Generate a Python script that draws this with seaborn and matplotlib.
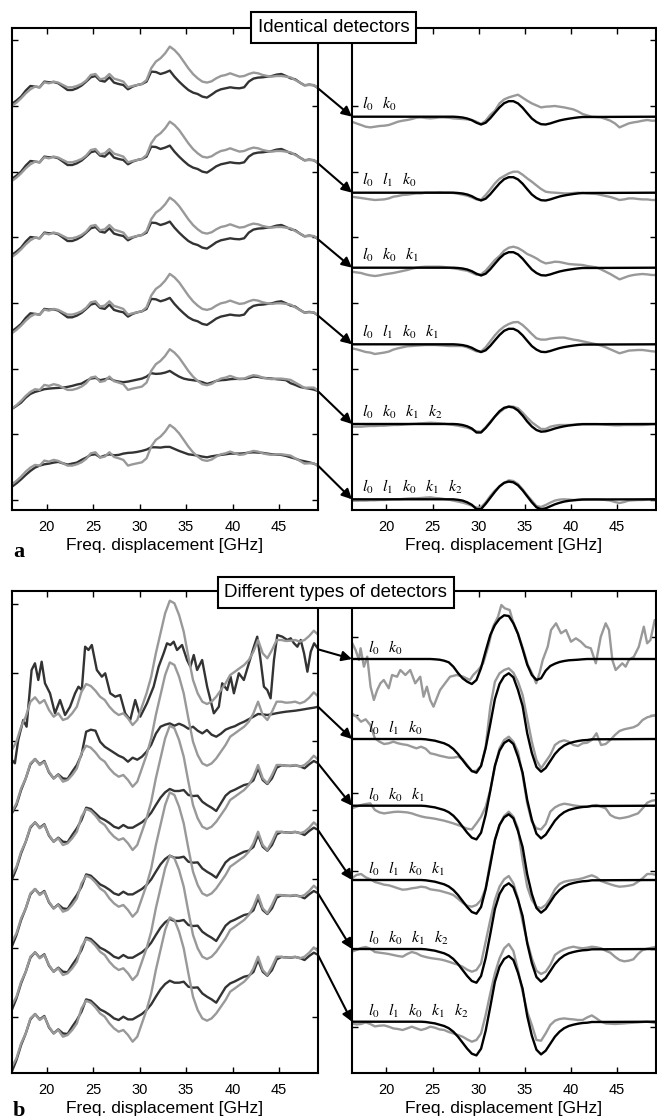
import numpy as np
import matplotlib
matplotlib.use("Agg")
import matplotlib.pyplot as plt
import seaborn as sns
from matplotlib.patches import ConnectionPatch

# ---------------- data (y in pixel-like units, relative to each row) ----------------
freq = [16.25, 16.75, 17.25, 17.75, 18.25, 18.75, 19.25, 19.75, 20.25, 20.75,
        21.25, 21.75, 22.25, 22.75, 23.25, 23.75, 24.25, 24.75, 25.25, 25.75,
        26.25, 26.75, 27.25, 27.75, 28.25, 28.75, 29.25, 29.75, 30.25, 30.75,
        31.25, 31.75, 32.25, 32.75, 33.25, 33.75, 34.25, 34.75, 35.25, 35.75,
        36.25, 36.75, 37.25, 37.75, 38.25, 38.75, 39.25, 39.75, 40.25, 40.75,
        41.25, 41.75, 42.25, 42.75, 43.25, 43.75, 44.25, 44.75, 45.25, 45.75,
        46.25, 46.75, 47.25, 47.75, 48.25, 48.75, 49.25]

# panel a, left: raw spectrum (same in every row) and corrected spectra
top_raw = [-22.7, -19.3, -15, -10, -6, -3.3, -4, 1, 0, 1.7, 0.7, -1.7, -4, -4, -2.7, -0.7, 2.7, 8.3, 9.3, 4,
           5, 9.3, 4.7, 3.3, 1.7, -4, -2.7, -1.7, -0.7, 3.3, 15, 21.7, 25, 30, 36.7, 33.3, 28.3, 21.7, 15, 9.3,
           5, 1.7, 0.7, 2, 5, 7.3, 8.3, 10, 8.3, 6.7, 7.3, 9.3, 10.7, 10, 8.3, 7.3, 6.7, 7.3, 7.3, 6.7,
           6, 3.3, 0.7, -2, -1.7, -1.7, -5]
top_corr_a = [-20.7, -17.3, -13.3, -7.3, -2.7, -3.3, -4, 1.7, 1, 1.3, 0, -3.3, -6.7, -6.7, -5, -2.3, 1.7, 6, 7.3, 2.7,
              1.7, 6, 0.7, -0.7, -1.7, -6, -3.3, -1.7, -0.7, 1.7, 11.7, 11.3, 9.3, 10.7, 12.7, 6.7, 1.7, -2.7, -6.7, -9.3,
              -10.7, -13.3, -14.3, -11.3, -8, -6, -5, -4, -4.7, -5, -4, 1.7, 4.7, 5.7, 6, 6.7, 7.3, 8.7, 9.3, 7.3,
              5, 4, 0.7, -2, -1.3, -2, -5]
top_corr_5 = [-23, -20, -16.7, -11.7, -8, -6, -4.7, -3.3, -2.7, -2.3, -2, -1.7, -1, 0, 1.3, 2.3, 5, 7.3, 8, 5.7,
              6.7, 7.7, 5.3, 4.3, 3.7, 4.3, 5.3, 6.3, 7.3, 9.3, 12.7, 12, 12.3, 13.3, 15, 12, 9.3, 7.3, 6.3, 5.7,
              5, 3.7, 2, 3.3, 5, 5.7, 6, 6.7, 7, 7, 7, 8, 9.3, 9, 8, 7.7, 7.3, 6.7, 6.3, 5.7,
              2.7, 1, -1, -2, -2.7, -3.7, -5.3]
top_corr_6 = [-25.2, -21.7, -17.7, -13.3, -9.3, -6, -4, -2.7, -2, -1, -0.3, -1.7, -3, -2, -1, 1.7, 4, 6.7, 7.3, 4.3,
              6, 7.3, 6.3, 6.7, 8, 8.7, 9, 9.7, 10.7, 12, 14.3, 14.3, 14, 14.7, 14.7, 12.7, 10.7, 9, 7.3, 6.7,
              6, 5, 4.3, 5.3, 6, 6.7, 7.3, 8, 8, 8, 8.3, 9, 9.3, 9, 8.7, 8, 7.3, 7, 6.7, 5.7,
              4.3, 3, 1.3, 0.3, -0.7, -2, -4]
top_left_base = [426.7, 351.7, 275.7, 199.4, 124.1, 48.4]

# panel a, right: fitted model and extracted signal
model_x_a = [16.25, 27.25, 27.75, 28.25, 28.75, 29.25, 29.75, 30.25, 30.75, 31.25, 31.75, 32.25, 32.75, 33.25,
             33.75, 34.25, 34.75, 35.25, 35.75, 36.25, 36.75, 37.25, 37.75, 38.25, 38.75, 39.25, 39.75, 40.25,
             40.75, 41.25, 49.25]
top_model_a = [0, 0, -0.3, -0.8, -1.8, -3.5, -6, -7.8, -6, -1.5, 4, 9.3, 13.5, 15.5, 15.5, 13.3, 9, 3.5, -1.8,
               -5.3, -7.5, -7.8, -6.7, -5.2, -3.8, -2.8, -2, -1.3, -0.7, -0.3, 0]
top_model_5 = [0, 0, -0.3, -1, -2.3, -4.5, -8.5, -8.5, -4, 1.5, 7.5, 12.8, 16.2, 17.3, 16.5, 13.5, 8.5, 2.5, -2.5,
               -6, -7.7, -7.3, -6, -4.5, -3.3, -2.3, -1.5, -1, -0.5, -0.2, 0]
top_model_6 = [0, 0, -0.5, -1.3, -3, -5.5, -9.8, -9.8, -4.5, 1.5, 7.5, 13, 16.5, 17.7, 17, 14, 9, 3, -3,
               -8, -10, -9, -7, -5, -3.5, -2.3, -1.5, -1, -0.5, -0.2, 0]
top_resid_1 = [-5, -6.7, -8.3, -10, -10.7, -10, -9.3, -9, -8.3, -6.7, -5, -4, -3.3, -2.3, -1, -0.7, -1.3, -1.7, -1.3, -0.7,
               -0.7, -1, -1.7, -2, -2.3, -2.7, -3.3, -5, -7.3, -4, 1.7, 6, 13.3, 17.3, 19.3, 20.7, 22, 19, 16, 13.3,
               11.3, 9.3, 10, 10.3, 10.7, 10, 9.3, 8.3, 7.3, 5.3, 2.7, 1.3, 0, -0.3, -0.7, -2.3, -4, -6.7, -10.7, -8.7,
               -6.7, -5.7, -5, -4, -3.3, -4, -4]
top_resid_2 = [-4, -4.7, -5.3, -6, -6.7, -7.3, -7, -6.7, -5.7, -4, -3.3, -2.3, -2, -1.3, -0.7, -0.7, 0, 0, 0, 0.3,
               0, 0, -0.3, -1, -2, -3, -4.7, -6.7, -7, -2.3, 3.3, 9.3, 14, 16.7, 19.3, 21, 21, 18, 14.3, 11,
               7.3, 3.7, 1, 0.3, 0, -0.3, -0.7, -0.7, -0.3, 0, -0.3, -0.7, -1, -1.3, -2.3, -3.3, -4.3, -5.7, -7.3, -6.7,
               -5.7, -5.7, -6.3, -6.7, -6.7, -7.3, -7.3]
top_resid_3 = [-4, -4.7, -5.3, -6.7, -7.7, -8.3, -7.7, -6.7, -6, -5.3, -4.3, -3.3, -2.3, -1, 0, 0.7, 1, 1, 1, 1,
               0.7, 0, -0.7, -1.3, -2.3, -3, -5, -7, -6.7, -3, 2.3, 7.7, 11.7, 17, 20, 21, 19.7, 17, 13.7, 11.7,
               9.3, 6.3, 4.3, 5, 6, 5.7, 4.7, 3.7, 3.3, 3, 2.7, 1.7, 1, 0.3, -1.7, -4, -6.3, -9, -11.7, -10,
               -8.3, -7.3, -6.7, -6.3, -6.7, -7.3, -7.3]
top_resid_4 = [-4, -5, -6.3, -7.7, -8.3, -9.7, -9, -8.3, -7.3, -5.3, -4, -3, -2, -1.7, -1.3, -1, -0.7, -0.7, -0.7, -1,
               -1.3, -1.7, -1.7, -1.7, -1.7, -3, -5, -7, -7.3, -3, 3, 9, 14, 17.7, 20.3, 22, 22.3, 19.3, 15, 10.3,
               6, 4.7, 4.7, 5.7, 6.3, 6.7, 6.7, 5.7, 4.7, 4, 3, 2, 1, 0, -1.3, -3, -5, -7, -9, -7.7,
               -6.3, -6, -5.7, -5.7, -6.3, -7, -7.3]
top_resid_5 = [-2.7, -2.7, -2.7, -2.3, -2, -2, -1.7, -1.7, -1.3, -1, -1, -0.7, -0.3, 0, 0.3, 0.7, 1, 1.3, 1, 0.7,
               0.3, -0.3, -1, -1.7, -2.7, -3.7, -5.3, -7.3, -7.7, -3.3, 2.3, 7.3, 11.7, 15.3, 17.7, 17.3, 15.7, 11.3, 6.3, 1.7,
               -1.7, -5, -5, -2.7, -1.7, -1, -1, -1, -0.7, -0.3, 0, 0, 0, 0, -0.3, -0.7, -1, -1.3, -1.3, -1,
               -1, -1, -1, -1, -0.7, -0.3, 0]
top_resid_6 = [-1.3, -1.3, -1.3, -1.3, -1, -1, -0.7, -0.7, -0.3, 0, 0, 0.3, 0.7, 1, 1, 1.3, 1.7, 2, 1.3, 1,
               0.3, -0.3, -1.3, -2.3, -3.3, -4.7, -6.3, -8.3, -8, -3, 3.3, 8.7, 12.7, 16.3, 19, 18.3, 15.3, 10, 4, -1.3,
               -6.7, -7.7, -5.7, -3.3, -1.3, -0.3, 0, -0.3, -0.7, -0.7, -0.3, 0, 0, 0, -0.3, -0.7, -1.3, -2.7, -3.7, -2.7,
               -1.3, -1, -0.7, -0.7, -0.3, 0, 0]
top_right_base = [393.3, 317.3, 242.3, 165.7, 86.0, 10.7]

# panel b, left
bot_raw = [-90, -81.7, -66.7, -56.7, -41.7, -37.3, -43.3, -40, -50, -56.7, -53.3, -60, -58.3, -53.3, -46.7, -31.7,
           -24, -26, -30.7, -36.7, -40, -46.7, -51.7, -55, -53.3, -58.3, -65, -60, -46.7, -33.3, -16.7, 6.7, 26.7,
           46.7, 59.3, 56.7, 45, 28.3, 3.3, -20, -33.3, -41.7, -44, -41.7, -36.7, -30, -23.3, -15, -11.7, -8.3,
           -5, 0, 8.3, 20, 6.7, 1.7, 10, 20, 20, 19, 19.3, 20, 18.3, 20, 24, 29.3, 25]
bot_corr_1_x = [16.26, 16.58, 16.94, 17.48, 17.84, 18.38, 18.74, 19.10, 19.46, 19.82, 20.36, 20.90, 21.44, 21.98,
                22.52, 23.06, 23.42, 23.78, 24.14, 24.50, 24.86, 25.40, 25.94, 26.30, 26.84, 27.38, 27.91, 28.45,
                28.99, 29.53, 30.07, 30.79, 31.51, 32.05, 32.59, 32.95, 33.31, 33.67, 34.03, 34.57, 35.11, 35.47,
                35.83, 36.19, 36.73, 37.27, 37.99, 38.53, 38.89, 39.43, 39.79, 40.15, 40.68, 41.22, 41.76, 42.30,
                42.66, 43.02, 43.38, 43.74, 44.10, 44.46, 44.82, 45.36, 45.90, 46.26, 46.62, 46.98, 47.34, 47.70,
                48.06, 48.42, 48.78, 49.25]
bot_corr_1 = [-100, -103.3, -80, -60, -66.7, -10, -3.3, -20, -1.7, -23.3, -33.3, -53.3, -40, -55, -46.7, -33.3,
              -26.7, -30, 13.3, 10, 15, -10, -16.7, -13.3, -33.3, -36.7, -35, -53.3, -60, -40, -56.7, -43.3, -26.7,
              -6.7, 6.7, 16.7, 15, 18.3, 10, 15, 0, -6.7, 5, -10, 0, -26.7, -53.3, -46.7, -23.3, -30, -16.7, -33.3,
              -13.3, -20, -3.3, 13.3, 23.3, 0, -26.7, -30, -38.3, 0, 25, 23.3, 20, 21.7, 16.7, 13.3, 20, 6.7,
              -11.7, 8.3, 16.7, 10.7]
bot_corr_2 = [-91.7, -83.3, -68.3, -56.7, -42.7, -37.3, -42.7, -39.3, -50.7, -56.7, -52.7, -56.7, -57.3, -50, -43.3, -33,
              -10, -8, -9, -20, -25, -28, -31, -34, -36, -40, -36, -38, -35, -30, -23, -12, -5, -3, -1.7,
              -4, -2, -4, -7, -5, -9, -11.7, -8.3, -13, -15, -12, -8, -6, -4.5, -2, 0, 2.5, 5, 7.7,
              7.3, 6.7, 7.5, 8.5, 9.3, 10, 10.5, 11, 11.7, 12.5, 13.3, 14, 15]
bot_corr_c = [-95, -83.3, -68.3, -56.7, -42.7, -37.3, -42.7, -39.3, -50.7, -56.7, -52.7, -56.7, -57.3, -50, -43.3, -35,
              -22.7, -24, -28.3, -32.7, -35, -38, -41.7, -43.3, -40, -42.7, -42.7, -40, -37.3, -33.3, -27.7, -20,
              -12.7, -7.3, -4, -6, -6, -5, -10, -11, -10.7, -16.7, -20, -22.7, -26, -18.3, -10.7, -6.7, -4.7, -2.3,
              0, 1, 4.7, 16.7, 5, 1, 6.7, 17.3, 19.7, 19.3, 19, 19.7, 18.7, 16.7, 20.7, 24, 21.7]
bot_left_base = [413.0, 351.3, 288.0, 221.3, 158.0, 96.3]

# panel b, right
model_x_b1 = [16.25, 24.75, 25.25, 25.75, 26.25, 26.75, 27.25, 27.75, 28.25, 28.75, 29.25, 29.75, 30.25, 30.75,
              31.25, 31.75, 32.25, 32.75, 33.25, 33.75, 34.25, 34.75, 35.25, 35.75, 36.25, 36.75, 37.25, 37.75,
              38.25, 38.75, 39.25, 39.75, 40.25, 40.75, 41.25, 41.75, 49.25]
bot_model_1 = [0, 0, -0.3, -0.7, -1.7, -3.3, -7.7, -14, -19.3, -22.7, -25, -21, -9, 8, 24, 34, 40.3, 43.7, 43,
               35.7, 25, 10, -5.7, -16, -21, -19.3, -11.7, -7, -4.7, -3, -2, -1.3, -1, -0.7, -0.3, 0, 0]
model_x_b = [16.25, 23.75, 24.25, 24.75, 25.25, 25.75, 26.25, 26.75, 27.25, 27.75, 28.25, 28.75, 29.25, 29.75,
             30.25, 30.75, 31.25, 31.75, 32.25, 32.75, 33.25, 33.75, 34.25, 34.75, 35.25, 35.75, 36.25, 36.75,
             37.25, 37.75, 38.25, 38.75, 39.25, 39.75, 40.25, 40.75, 41.25, 41.75, 42.25, 49.25]
bot_model_b = [0, 0, -0.3, -1, -1.7, -3, -4.3, -6.5, -10, -15, -21, -27, -32, -33.7, -27, -9, 15, 40, 55, 62.7,
               65.7, 61.7, 49, 33, 5.7, -14, -28, -32.7, -29, -22, -15, -10, -6.5, -4.3, -3, -2, -1.3, -1, -0.3, 0]
bot_resid_1_x = [16.30, 16.66, 17.02, 17.20, 17.56, 17.92, 18.28, 18.64, 19.00, 19.35, 19.71, 20.25, 20.61, 21.15,
                 21.51, 22.05, 22.58, 23.12, 23.66, 24.02, 24.38, 24.74, 25.10, 25.45, 25.81, 26.35, 26.89, 27.61,
                 28.32, 29.04, 29.40, 29.94, 30.48, 31.02, 31.55, 32.09, 32.45, 32.81, 33.35, 33.71, 34.24, 34.78,
                 35.32, 35.86, 36.22, 36.58, 36.93, 37.47, 37.83, 38.37, 38.91, 39.45, 39.99, 40.52, 41.06, 41.60,
                 42.14, 42.68, 43.22, 43.75, 44.11, 44.47, 44.83, 45.19, 45.55, 45.91, 46.26, 46.80, 47.34, 47.88,
                 48.24, 48.60, 49.06]
bot_resid_1 = [15.7, 9, -1, 10.7, -7.7, 2.3, -27.7, -41, -31, -24.3, -21, -29.3, -16, -17.7, -11, -16, -11, -24.3,
               -17.7, -37.7, -27.7, -41, -47.7, -39.3, -31, -24.3, -17.7, -16, -17.7, -21, -16, -11, -4.3, 12.3,
               32.3, 42.3, 54, 50.7, 49, 37.3, 25.7, 10.7, -6, -16, -24.3, -14.3, -1, 12.3, 29, 35.7, 25.7, 29,
               17.3, 20.7, 17.3, 12.3, 10.7, -4.3, 22.3, 35.7, 29, -1, -11, -7.7, -4.3, -7.7, -1, 2.3, 12.3, 32.3,
               15.7, 19, 39]
bot_resid_2 = [25.7, 22.3, 17.3, 19.7, 14, 0.7, -2.7, -5, -4.3, -2.7, -4.3, -5.3, -6, -7.7, -9.3, -7.7, -9.7, -14.3,
               -15.3, -16.7, -17.7, -18.7, -18.7, -17.7, -20.3, -26, -32.3, -31.7, -26.7, -7.7, 32.3, 57.3, 65.7, 69,
               70.7, 66.3, 57.3, 44, 20.7, -2.7, -21, -29.3, -22.7, -16, -6, -2.7, -1.3, -2.7, -6, -7, -4.3, -3.7,
               -1, 5.7, -6, -5, -1, 4, 8, 9.7, 10.7, 11.7, 14, 19, 21.7, 23, 24]
bot_resid_3 = [-2.7, -1, 0.7, 1.7, 2.3, -4.3, -6.7, -7.7, -7, -6.3, -6, -6.3, -6.7, -7.7, -9.3, -10.7, -11.7, -12.3,
               -13, -14, -15, -16.3, -17.7, -19.3, -21, -23, -23.7, -17.7, -11, -1, 15.7, 39, 57.3, 65.7, 69, 64,
               54, 30.7, 2.3, -16, -22.7, -23.7, -18.3, -6, -1.7, 0.7, 2, 1.3, 0.3, -0.3, -0.7, -1, 0, 0.7, -1,
               -2.7, -9.3, -11.7, -12.7, -12, -11, -9.3, -7.7, -2.7, 3, 5, 5.7]
bot_resid_4 = [1.7, 5, 6, 2.7, 0.7, -2, -3.3, -4.7, -5.3, -6.7, -8.3, -9.7, -9.3, -8.3, -7.7, -6.7, -7.3, -9.3, -10,
               -10.7, -12, -13.3, -15, -18.7, -22.7, -25.7, -26.7, -25, -20, -8.3, 18.3, 40, 55, 64, 68.3, 63.3, 51.7,
               20, -6.7, -20, -26.7, -28.3, -25, -18.3, -9.3, -4, -1.7, -0.7, 0, 0.7, 1.7, 3.3, 4.7, 2.7, -1, -2.7,
               -4.3, -5.7, -6.7, -6.3, -5.7, -4.7, -1.7, 1.7, 6, 6, 5]
bot_resid_5 = [-2.7, -1, 1, 2, 0.3, -3, -3.7, -4.3, -5, -6, -7, -7.7, -5, -3, -4.3, -6.7, -8, -9, -9.7, -10.3,
               -11.3, -12.7, -14.3, -15.7, -17.7, -20.7, -22.7, -21, -14.3, 7.3, 29, 49, 62.3, 69.7, 73, 65.7, 50.7,
               27.3, 7.3, -9.3, -21.7, -25, -22.7, -16, -6, -2.7, -0.3, 1.3, 2.3, 1.3, 0.7, 1.3, 2.3, 1.7, 0.7, -1.7,
               -3.7, -7.7, -11, -12.3, -11.7, -10.3, -5, -1, 0.3, 1.3, 2.3]
bot_resid_6 = [-1.7, -2.7, -2.3, -0.7, -2.3, -4.7, -4, -3.7, -5, -6.7, -7.3, -8.3, -6.7, -5, -6.7, -8.3, -7, -5, -6,
               -7.7, -8.3, -10.3, -11.7, -13.3, -15, -17.7, -20, -18.3, -11.7, 6.7, 28.3, 48.3, 63.3, 73.3, 77.7, 70.7,
               51.7, 30, 10, -3.3, -18.3, -19, -11.7, -3.3, 1, 2.7, 3.3, 2.7, 2.3, 1.7, 1.7, 4.3, 6.3, 3.3, 0, -1.7,
               -2, -2.3, -2, -1.7, -1.3, -1, -0.7, -0.3, 0, -0.7, -1.7]
bot_right_base = [414.0, 334.0, 267.3, 193.0, 124.0, 51.3]

row_labels = [r"$l_0\;\;\;k_0$", r"$l_0\;\;\;l_1\;\;\;k_0$", r"$l_0\;\;\;k_0\;\;\;k_1$",
              r"$l_0\;\;\;l_1\;\;\;k_0\;\;\;k_1$", r"$l_0\;\;\;k_0\;\;\;k_1\;\;\;k_2$",
              r"$l_0\;\;\;l_1\;\;\;k_0\;\;\;k_1\;\;\;k_2$"]
xtick_vals = [20, 25, 30, 35, 40, 45]
titles = ["Identical detectors", "Different types of detectors"]
panel_letters = ["a", "b"]

# ---------------- style ----------------
sns.set_theme(style="ticks")
plt.rcParams.update({
    "font.family": ["Liberation Sans", "DejaVu Sans"],
    "mathtext.fontset": "stix",
    "xtick.direction": "in", "ytick.direction": "in",
    "xtick.top": True, "ytick.right": True,
    "xtick.major.size": 4, "ytick.major.size": 4,
    "xtick.major.width": 1.0, "ytick.major.width": 1.0,
    "xtick.major.pad": 7,
    "axes.linewidth": 1.5, "axes.edgecolor": "black",
    "xtick.color": "black", "ytick.color": "black",
    "text.color": "black", "axes.labelcolor": "black",
})

W, H = 657, 1119
fig = plt.figure(figsize=(W / 100, H / 100), dpi=100)


def rect(x0, y0, x1, y1):
    return [x0 / W, 1 - y1 / H, (x1 - x0) / W, (y1 - y0) / H]


DARK = "#333333"
LIGHT = "#999999"
XLIM = (16.27, 49.2)
YLIM = (0, 482)
LW = 1.7


def style_axes(ax, yticks):
    ax.set_xlim(*XLIM)
    ax.set_ylim(*YLIM)
    ax.set_xticks(xtick_vals)
    ax.set_xticklabels([str(v) for v in xtick_vals], fontsize=10.5)
    ax.set_yticks(yticks)
    ax.set_yticklabels([])
    ax.set_xlabel("Freq. displacement [GHz]", fontsize=12.5, labelpad=3)
    ax.set_ylabel("")
    for s in ax.spines.values():
        s.set_visible(True)
        s.set_color("black")


def line(ax, x, y, base, color, lw):
    sns.lineplot(x=np.asarray(x, float), y=np.asarray(y, float) + base, ax=ax, color=color,
                 linewidth=lw, sort=False, estimator=None, legend=False)


def arrow(axL, axR, yL, yR):
    con = ConnectionPatch(xyA=(XLIM[1], yL), coordsA=axL.transData,
                          xyB=(XLIM[0], yR), coordsB=axR.transData,
                          arrowstyle="-|>", mutation_scale=15, lw=1.5, color="black",
                          shrinkA=0, shrinkB=0, zorder=5)
    fig.add_artist(con)


# ---------------- panel a ----------------
axL = fig.add_axes(rect(12, 28, 318, 510))
axR = fig.add_axes(rect(352, 28, 656, 510))
top_corr_rows = [top_corr_a, top_corr_a, top_corr_a, top_corr_a, top_corr_5, top_corr_6]
top_model_rows = [top_model_a, top_model_a, top_model_a, top_model_a, top_model_5, top_model_6]
top_resid_rows = [top_resid_1, top_resid_2, top_resid_3, top_resid_4, top_resid_5, top_resid_6]
for i in range(6):
    bL = top_left_base[i]
    line(axL, freq, top_corr_rows[i], bL, DARK, LW)
    line(axL, freq, top_raw, bL, LIGHT, LW)
    bR = top_right_base[i]
    line(axR, freq, top_resid_rows[i], bR, LIGHT, LW)
    line(axR, model_x_a, top_model_rows[i], bR, "black", LW)
    axR.text(17.4, bR + 3.5, row_labels[i], fontsize=11.5, ha="left", va="bottom")
    arrow(axL, axR, top_corr_rows[i][-1] + bL, bR)
style_axes(axL, np.arange(10, 482, 65.7))
style_axes(axR, np.arange(10, 482, 65.7))

# ---------------- panel b ----------------
bxL = fig.add_axes(rect(12, 591, 318, 1073))
bxR = fig.add_axes(rect(352, 591, 656, 1073))
bot_corr_rows = [(bot_corr_1_x, bot_corr_1), (freq, bot_corr_2), (freq, bot_corr_c),
                 (freq, bot_corr_c), (freq, bot_corr_c), (freq, bot_corr_c)]
bot_model_rows = [(model_x_b1, bot_model_1)] + [(model_x_b, bot_model_b)] * 5
bot_resid_rows = [(bot_resid_1_x, bot_resid_1), (freq, bot_resid_2), (freq, bot_resid_3),
                  (freq, bot_resid_4), (freq, bot_resid_5), (freq, bot_resid_6)]
for i in range(6):
    bL = bot_left_base[i]
    cx, cy = bot_corr_rows[i]
    line(bxL, cx, cy, bL, DARK, LW)
    line(bxL, freq, bot_raw, bL, LIGHT, LW)
    bR = bot_right_base[i]
    rx, ry = bot_resid_rows[i]
    line(bxR, rx, ry, bR, LIGHT, LW)
    mx, my = bot_model_rows[i]
    line(bxR, mx, my, bR, "black", LW)
    bxR.text(17.95, bR + 2.0, row_labels[i], fontsize=11.5, ha="left", va="bottom")
    arrow(bxL, bxR, cy[-1] + bL, bR)
style_axes(bxL, np.arange(56, 482, 68.9))
style_axes(bxR, np.arange(46, 482, 78))

# ---------------- titles and panel letters ----------------
box = dict(boxstyle="square,pad=0.35", fc="white", ec="black", lw=1.5)
fig.text(333.5 / W, 1 - 27.5 / H, titles[0], ha="center", va="center", fontsize=13.5, bbox=box, zorder=10)
fig.text(335.5 / W, 1 - 592.5 / H, titles[1], ha="center", va="center", fontsize=13.5, bbox=box, zorder=10)
fig.text(13 / W, 1 - 557 / H, panel_letters[0], fontsize=16, fontweight="bold",
         family="Liberation Serif", va="baseline", ha="left")
fig.text(13 / W, 1 - 1116 / H, panel_letters[1], fontsize=16, fontweight="bold",
         family="Liberation Serif", va="baseline", ha="left")

fig.savefig("out.png", dpi=100)
